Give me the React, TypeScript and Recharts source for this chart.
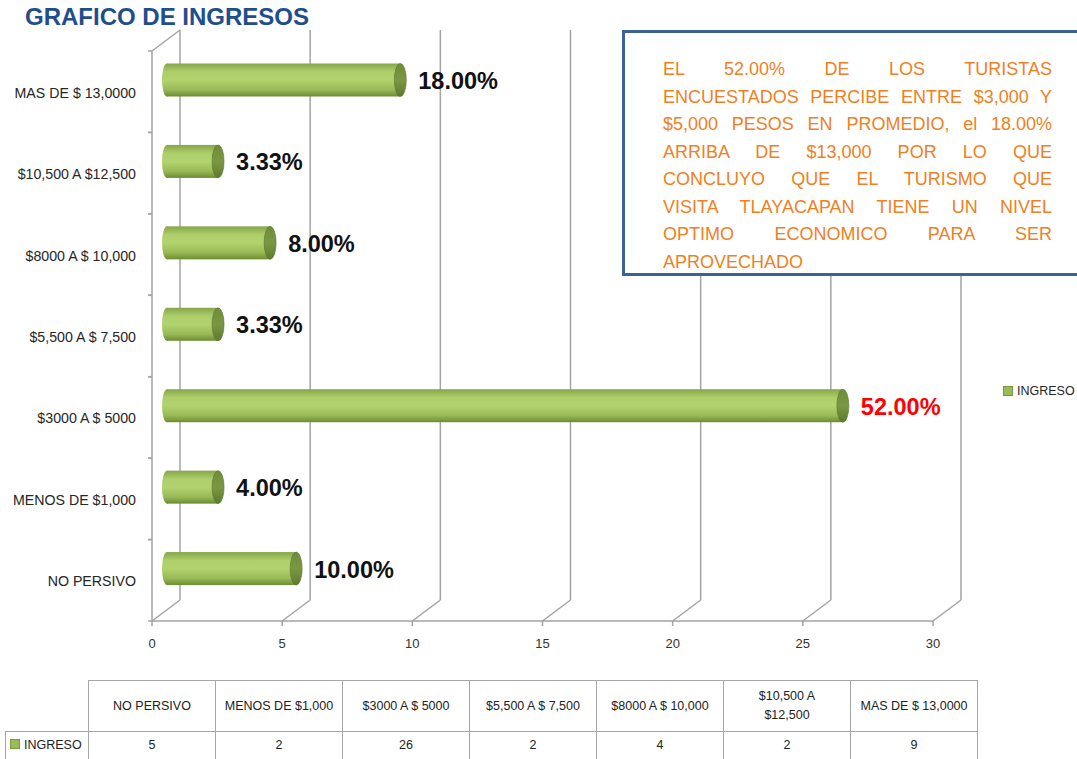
import React from 'react';
import { BarChart, Bar, XAxis, YAxis, CartesianGrid, LabelList } from 'recharts';

// Rangos de ingreso (orden de la tabla, de abajo hacia arriba en la gráfica)
const categories = [
  'NO PERSIVO',
  'MENOS DE $1,000',
  '$3000 A $ 5000',
  '$5,500 A $ 7,500',
  '$8000 A $ 10,000',
  '$10,500 A $12,500',
  'MAS DE $ 13,0000',
];
const tableHeaders = [
  'NO PERSIVO',
  'MENOS DE $1,000',
  '$3000 A $ 5000',
  '$5,500 A $ 7,500',
  '$8000 A $ 10,000',
  '$10,500 A\n$12,500',
  'MAS DE $ 13,0000',
];
const ingreso = [5, 2, 26, 2, 4, 2, 9];
const percentLabels = ['10.00%', '4.00%', '52.00%', '3.33%', '8.00%', '3.33%', '18.00%'];
const xTicks = [0, 5, 10, 15, 20, 25, 30];
const noteLines = [
  'EL 52.00% DE LOS TURISTAS',
  'ENCUESTADOS PERCIBE ENTRE $3,000 Y',
  '$5,000 PESOS EN PROMEDIO, el 18.00%',
  'ARRIBA DE $13,000  POR LO QUE',
  'CONCLUYO QUE  EL TURISMO QUE',
  'VISITA TLAYACAPAN TIENE UN NIVEL',
  'OPTIMO ECONOMICO PARA SER',
  'APROVECHADO',
];

const data = categories.map((name, i) => ({ name, value: ingreso[i], label: percentLabels[i] }));
const maxIndex = ingreso.indexOf(Math.max(...ingreso));

const FONT = '"Liberation Sans", Arial, sans-serif';
const W = 1077;
const H = 759;
// plano frontal del gráfico 3D
const PLOT_LEFT = 152;
const PLOT_TOP = 51;
const PLOT_RIGHT = 933;
const PLOT_BOTTOM = 621;
// profundidad de la pared de fondo y plano de las barras (mitad)
const DEPTH_X = 28;
const DEPTH_Y = 21;
const BAR_DX = DEPTH_X / 2;
const BAR_DY = DEPTH_Y / 2;
const BAND = (PLOT_BOTTOM - PLOT_TOP) / categories.length;
const GRID = '#A3A3A3';

const GridLine = (props: any) => {
  const { x1, y1, y2, index } = props;
  const bx = x1 + DEPTH_X;
  return (
    <g key={`g-${index}`}>
      <line x1={x1} y1={y2} x2={bx} y2={y2 - DEPTH_Y} stroke={GRID} strokeWidth={1.5} />
      <line x1={bx} y1={y2 - DEPTH_Y} x2={bx} y2={y1 - DEPTH_Y} stroke={GRID} strokeWidth={1.5} />
      {index === 0 && (
        <line x1={x1} y1={y1} x2={bx} y2={y1 - DEPTH_Y} stroke={GRID} strokeWidth={1.5} />
      )}
    </g>
  );
};

const XTick = (props: any) => {
  const { x, y, payload } = props;
  return (
    <g>
      <line x1={x} y1={y} x2={x} y2={y + 5} stroke={GRID} strokeWidth={1.5} />
      <text x={x} y={y + 27} textAnchor="middle" fontFamily={FONT} fontSize={13} fill="#333">
        {payload.value}
      </text>
    </g>
  );
};

const YTick = (props: any) => {
  const { x, y, payload } = props;
  return (
    <g>
      <line x1={x + 12} y1={y - BAND / 2} x2={x + 16} y2={y - BAND / 2} stroke={GRID} strokeWidth={1.5} />
      <line x1={x + 12} y1={y + BAND / 2} x2={x + 16} y2={y + BAND / 2} stroke={GRID} strokeWidth={1.5} />
      <text x={x} y={y + 1} dy="0.35em" textAnchor="end" fontFamily={FONT} fontSize={14.2} fill="#262626">
        {payload.value}
      </text>
    </g>
  );
};

const Cylinder = (props: any) => {
  const { x, y, width, height, index } = props;
  const x0 = x + BAR_DX;
  const y0 = y - BAR_DY - 1;
  const rx = 5;
  const ry = height / 2;
  const x1 = x0 + width;
  const bodyId = `cylBody-${index}`;
  const capId = `cylCap-${index}`;
  return (
    <g>
      <defs>
        <linearGradient id={bodyId} x1="0" y1="0" x2="0" y2="1">
          <stop offset="0%" stopColor="#86A548" />
          <stop offset="25%" stopColor="#ADCE6A" />
          <stop offset="50%" stopColor="#B2D46F" />
          <stop offset="80%" stopColor="#98B955" />
          <stop offset="100%" stopColor="#6C8B33" />
        </linearGradient>
        <linearGradient id={capId} x1="0" y1="0" x2="0" y2="1">
          <stop offset="0%" stopColor="#6F8D3A" />
          <stop offset="50%" stopColor="#7A9843" />
          <stop offset="100%" stopColor="#5C7A2C" />
        </linearGradient>
      </defs>
      <ellipse cx={x0 + 1} cy={y0 + ry} rx={rx} ry={ry} fill={`url(#${bodyId})`} />
      <rect x={x0 + 1} y={y0} width={width - 1} height={height} fill={`url(#${bodyId})`} />
      <ellipse cx={x1} cy={y0 + ry} rx={rx + 1} ry={ry} fill={`url(#${capId})`} stroke="#5A7530" strokeWidth={0.6} />
    </g>
  );
};

const PercentLabel = (props: any) => {
  const { x, y, width, height, value, index } = props;
  return (
    <text
      x={x + width + BAR_DX + 18}
      y={y + height / 2 - BAR_DY}
      dominantBaseline="central"
      fontFamily={FONT}
      fontWeight="bold"
      fontSize={23.5}
      fill={index === maxIndex ? '#FF0000' : '#111'}
    >
      {value}
    </text>
  );
};

const cell: React.CSSProperties = {
  border: '1px solid #A6A6A6',
  textAlign: 'center',
  padding: 0,
  whiteSpace: 'pre-line',
  lineHeight: '19px',
};

export default function App() {
  return (
    <div style={{ position: 'absolute', left: 0, top: 0, width: W, height: H, background: '#fff', overflow: 'hidden', fontFamily: FONT }}>
      <BarChart
        width={W}
        height={H}
        data={data}
        layout="vertical"
        margin={{ top: PLOT_TOP, right: W - PLOT_RIGHT, bottom: 98, left: 2 }}
        barCategoryGap={0}
      >
        <CartesianGrid horizontal={false} vertical={GridLine} stroke={GRID} />
        <XAxis
          type="number"
          domain={[0, 30]}
          ticks={xTicks}
          height={40}
          tickSize={0}
          tickMargin={0}
          tickLine={false}
          axisLine={{ stroke: GRID, strokeWidth: 1.5 }}
          tick={XTick}
          interval={0}
        />
        <YAxis
          type="category"
          dataKey="name"
          reversed
          width={150}
          tickSize={0}
          tickMargin={16}
          tickLine={false}
          axisLine={{ stroke: GRID, strokeWidth: 1.5 }}
          tick={YTick}
          interval={0}
        />
        <Bar dataKey="value" barSize={33} shape={Cylinder} isAnimationActive={false}>
          <LabelList dataKey="label" content={PercentLabel} />
        </Bar>
      </BarChart>

      <div style={{ position: 'absolute', left: 25, top: 5, fontSize: 24, lineHeight: '24px', fontWeight: 'bold', color: '#1F4E8C' }}>
        GRAFICO DE INGRESOS
      </div>

      <div
        style={{
          position: 'absolute',
          left: 622,
          top: 30,
          width: 470,
          height: 240,
          border: '3px solid #3E618F',
          background: '#fff',
        }}
      >
        <div style={{ position: 'absolute', left: 38, top: 23, width: 389, color: '#F07F23', fontSize: 18, lineHeight: '27.5px' }}>
          {noteLines.map((line, i) => (
            <div
              key={i}
              style={{
                whiteSpace: 'nowrap',
                textAlign: 'justify',
                textAlignLast: i === noteLines.length - 1 ? 'left' : 'justify',
              }}
            >
              {line}
            </div>
          ))}
        </div>
      </div>

      <div style={{ position: 'absolute', left: 1003, top: 384, display: 'flex', alignItems: 'center', fontSize: 12.5, color: '#262626' }}>
        <span style={{ display: 'inline-block', width: 8, height: 8, background: '#9BBB59', border: '1px solid #7A9A3A', marginRight: 4 }} />
        INGRESO
      </div>

      <table
        style={{
          position: 'absolute',
          left: 5,
          top: 680,
          borderCollapse: 'collapse',
          tableLayout: 'fixed',
          fontSize: 12.5,
          color: '#222',
          width: 83 + 127 * categories.length,
        }}
      >
        <colgroup>
          <col style={{ width: 83 }} />
          {categories.map((c) => (
            <col key={c} style={{ width: 127 }} />
          ))}
        </colgroup>
        <tbody>
          <tr style={{ height: 51 }}>
            <td style={{ border: 'none' }} />
            {tableHeaders.map((h) => (
              <td key={h} style={cell}>
                {h}
              </td>
            ))}
          </tr>
          <tr style={{ height: 28 }}>
            <td style={{ ...cell, textAlign: 'left', paddingLeft: 4 }}>
              <span style={{ display: 'inline-block', width: 8, height: 8, background: '#9BBB59', border: '1px solid #7A9A3A', marginRight: 4 }} />
              INGRESO
            </td>
            {ingreso.map((v, i) => (
              <td key={i} style={cell}>
                {v}
              </td>
            ))}
          </tr>
        </tbody>
      </table>
    </div>
  );
}
